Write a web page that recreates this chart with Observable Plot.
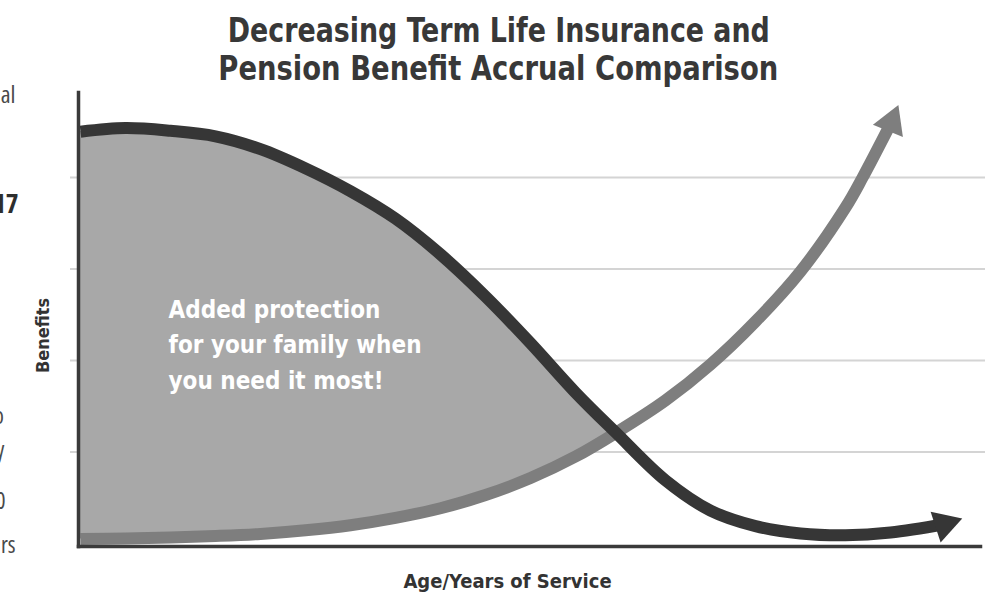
<!DOCTYPE html>
<html>
<head>
<meta charset="utf-8">
<script src="https://cdn.jsdelivr.net/npm/d3@7"></script>
<script src="https://cdn.jsdelivr.net/npm/@observablehq/plot@0.6"></script>
<style>
  html, body { margin: 0; padding: 0; background: #fff; }
  body { width: 987px; height: 596px; overflow: hidden; position: relative; }
  #title { height: 90px; position: relative; font-family: "DejaVu Sans Condensed", "DejaVu Sans", sans-serif; font-stretch: condensed; font-weight: bold; color: #383838; font-size: 34px; }
  #title div { position: absolute; left: 5px; width: 987px; text-align: center; white-space: nowrap; line-height: 1; }
  #title span { display: inline-block; transform-origin: center; }
  #chart svg { display: block; }
</style>
</head>
<body>
<div id="title">
  <div id="t1" style="top:13px"><span>Decreasing Term Life Insurance and</span></div>
  <div id="t2" style="top:51px"><span>Pension Benefit Accrual Comparison</span></div>
</div>
<div id="chart"></div>
<script>
// ---- data ----
// Decreasing term life insurance benefit (dark curve)
const lifeAge     = [0, 1, 2, 3, 4, 5, 6, 7, 8, 9, 10, 11, 11.9, 13, 14, 15, 16, 17, 18, 19.2];
const lifeBenefit = [4.50, 4.54, 4.51, 4.45, 4.31, 4.10, 3.85, 3.55, 3.16, 2.70, 2.19, 1.65, 1.21, 0.69, 0.36, 0.19, 0.11, 0.09, 0.12, 0.21];
// Pension benefit accrual (light curve)
const pensionAge     = [0, 1, 2, 3, 4, 5, 6, 7, 8, 9, 10, 11, 11.9, 13, 14, 15, 16, 17, 17.38, 18.02];
const pensionBenefit = [0.049, 0.055, 0.066, 0.082, 0.105, 0.145, 0.20, 0.28, 0.385, 0.53, 0.715, 0.95, 1.21, 1.563, 1.956, 2.426, 2.973, 3.672, 4.0, 4.604];
const gridBenefit = [1, 2, 3, 4];

const titleLines = ["Decreasing Term Life Insurance and", "Pension Benefit Accrual Comparison"];
const annotation = "Added protection\nfor your family when\nyou need it most!";
const xLabel = "Age/Years of Service";
const yLabel = "Benefits";
// clipped words of the neighbouring column at the left edge
const fragments = ["al", "17", "o", "y", "0", "rs"];

// ---- tables ----
const life = lifeAge.map((a, i) => ({age: a, benefit: lifeBenefit[i]}));
const pension = pensionAge.map((a, i) => ({age: a, benefit: pensionBenefit[i]}));
const crossing = lifeAge.indexOf(11.9);
const protection = lifeAge.slice(0, crossing + 1).map((a, i) => ({age: a, low: pensionBenefit[i], high: lifeBenefit[i]}));

const cond = "'DejaVu Sans Condensed', 'DejaVu Sans', sans-serif";
const DARK = "#363636", MID = "#7e7e7e", FILL = "#a8a8a8";

// fragment styling/placement
const fragStyle = [
  {dx: -63, dy: 10, size: 24, weight: "normal", fill: "#4a4a4a"},
  {dx: -60, dy: 120, size: 27, weight: "bold", fill: "#2e2e2e"},
  {dx: -74.5, dy: 331, size: 23, weight: "normal", fill: "#4a4a4a"},
  {dx: -74, dy: 365, size: 23, weight: "normal", fill: "#4a4a4a"},
  {dx: -73, dy: 416, size: 23, weight: "normal", fill: "#4a4a4a"},
  {dx: -63, dy: 460, size: 23, weight: "normal", fill: "#4a4a4a"}
];

const chart = Plot.plot({
  width: 987,
  height: 506,
  marginLeft: 78, marginRight: 7, marginTop: 2, marginBottom: 50,
  x: {domain: [0, 20], range: [80, 980], axis: null},
  y: {domain: [0, 4], range: [453, 87], axis: null},
  style: "background:white;overflow:visible;font-stretch:condensed;",
  marks: [
    Plot.ruleY(gridBenefit, {stroke: "#d4d4d4", strokeWidth: 2, insetLeft: -8, insetRight: -5}),
    Plot.areaY(protection, {x: "age", y1: "low", y2: "high", fill: FILL, curve: "catmull-rom"}),
    Plot.line(pension, {x: "age", y: "benefit", stroke: MID, strokeWidth: 12, curve: "catmull-rom", strokeLinecap: "butt"}),
    Plot.dot(pension.slice(-1), {x: "age", y: "benefit", symbol: "triangle", r: 12, rotate: 22, fill: MID, stroke: "none"}),
    Plot.line(life, {x: "age", y: "benefit", stroke: DARK, strokeWidth: 12, curve: "catmull-rom", strokeLinecap: "butt"}),
    Plot.dot(life.slice(-1), {x: "age", y: "benefit", symbol: "triangle", r: 12, rotate: 72, fill: DARK, stroke: "none"}),
    Plot.frame({anchor: "left", stroke: "#3a3a3a", strokeWidth: 3.5, strokeLinecap: "square"}),
    Plot.frame({anchor: "bottom", stroke: "#3a3a3a", strokeWidth: 3.5, strokeLinecap: "square"}),
    Plot.text([annotation], {frameAnchor: "top-left", dx: 90, dy: 296, textAnchor: "start", lineAnchor: "bottom", lineHeight: 1.46, fontSize: 24, fontWeight: "bold", fill: "white", fontFamily: cond}),
    Plot.text([xLabel], {frameAnchor: "bottom", dx: -22, dy: 41, lineAnchor: "bottom", fontSize: 20, fontWeight: "bold", fill: "#333", fontFamily: cond}),
    Plot.text([yLabel], {frameAnchor: "left", dx: -35, dy: 16, rotate: -90, textAnchor: "middle", fontSize: 18, fontWeight: "bold", fill: "#333", fontFamily: cond}),
    ...fragments.map((f, i) => Plot.text([f], {frameAnchor: "top-left", dx: fragStyle[i].dx, dy: fragStyle[i].dy, textAnchor: "end", lineAnchor: "bottom", fontSize: fragStyle[i].size, fontWeight: fragStyle[i].weight, fill: fragStyle[i].fill, fontFamily: "'Open Sans', sans-serif"}))
  ]
});
document.getElementById("chart").appendChild(chart);

// fit the title lines to the width they take in the reference
const targets = [542, 560];
["t1", "t2"].forEach((id, i) => {
  const span = document.querySelector("#" + id + " span");
  span.textContent = titleLines[i];
  const w = span.getBoundingClientRect().width;
  if (w > 0) span.style.transform = `scaleX(${targets[i] / w})`;
});
</script>
</body>
</html>
